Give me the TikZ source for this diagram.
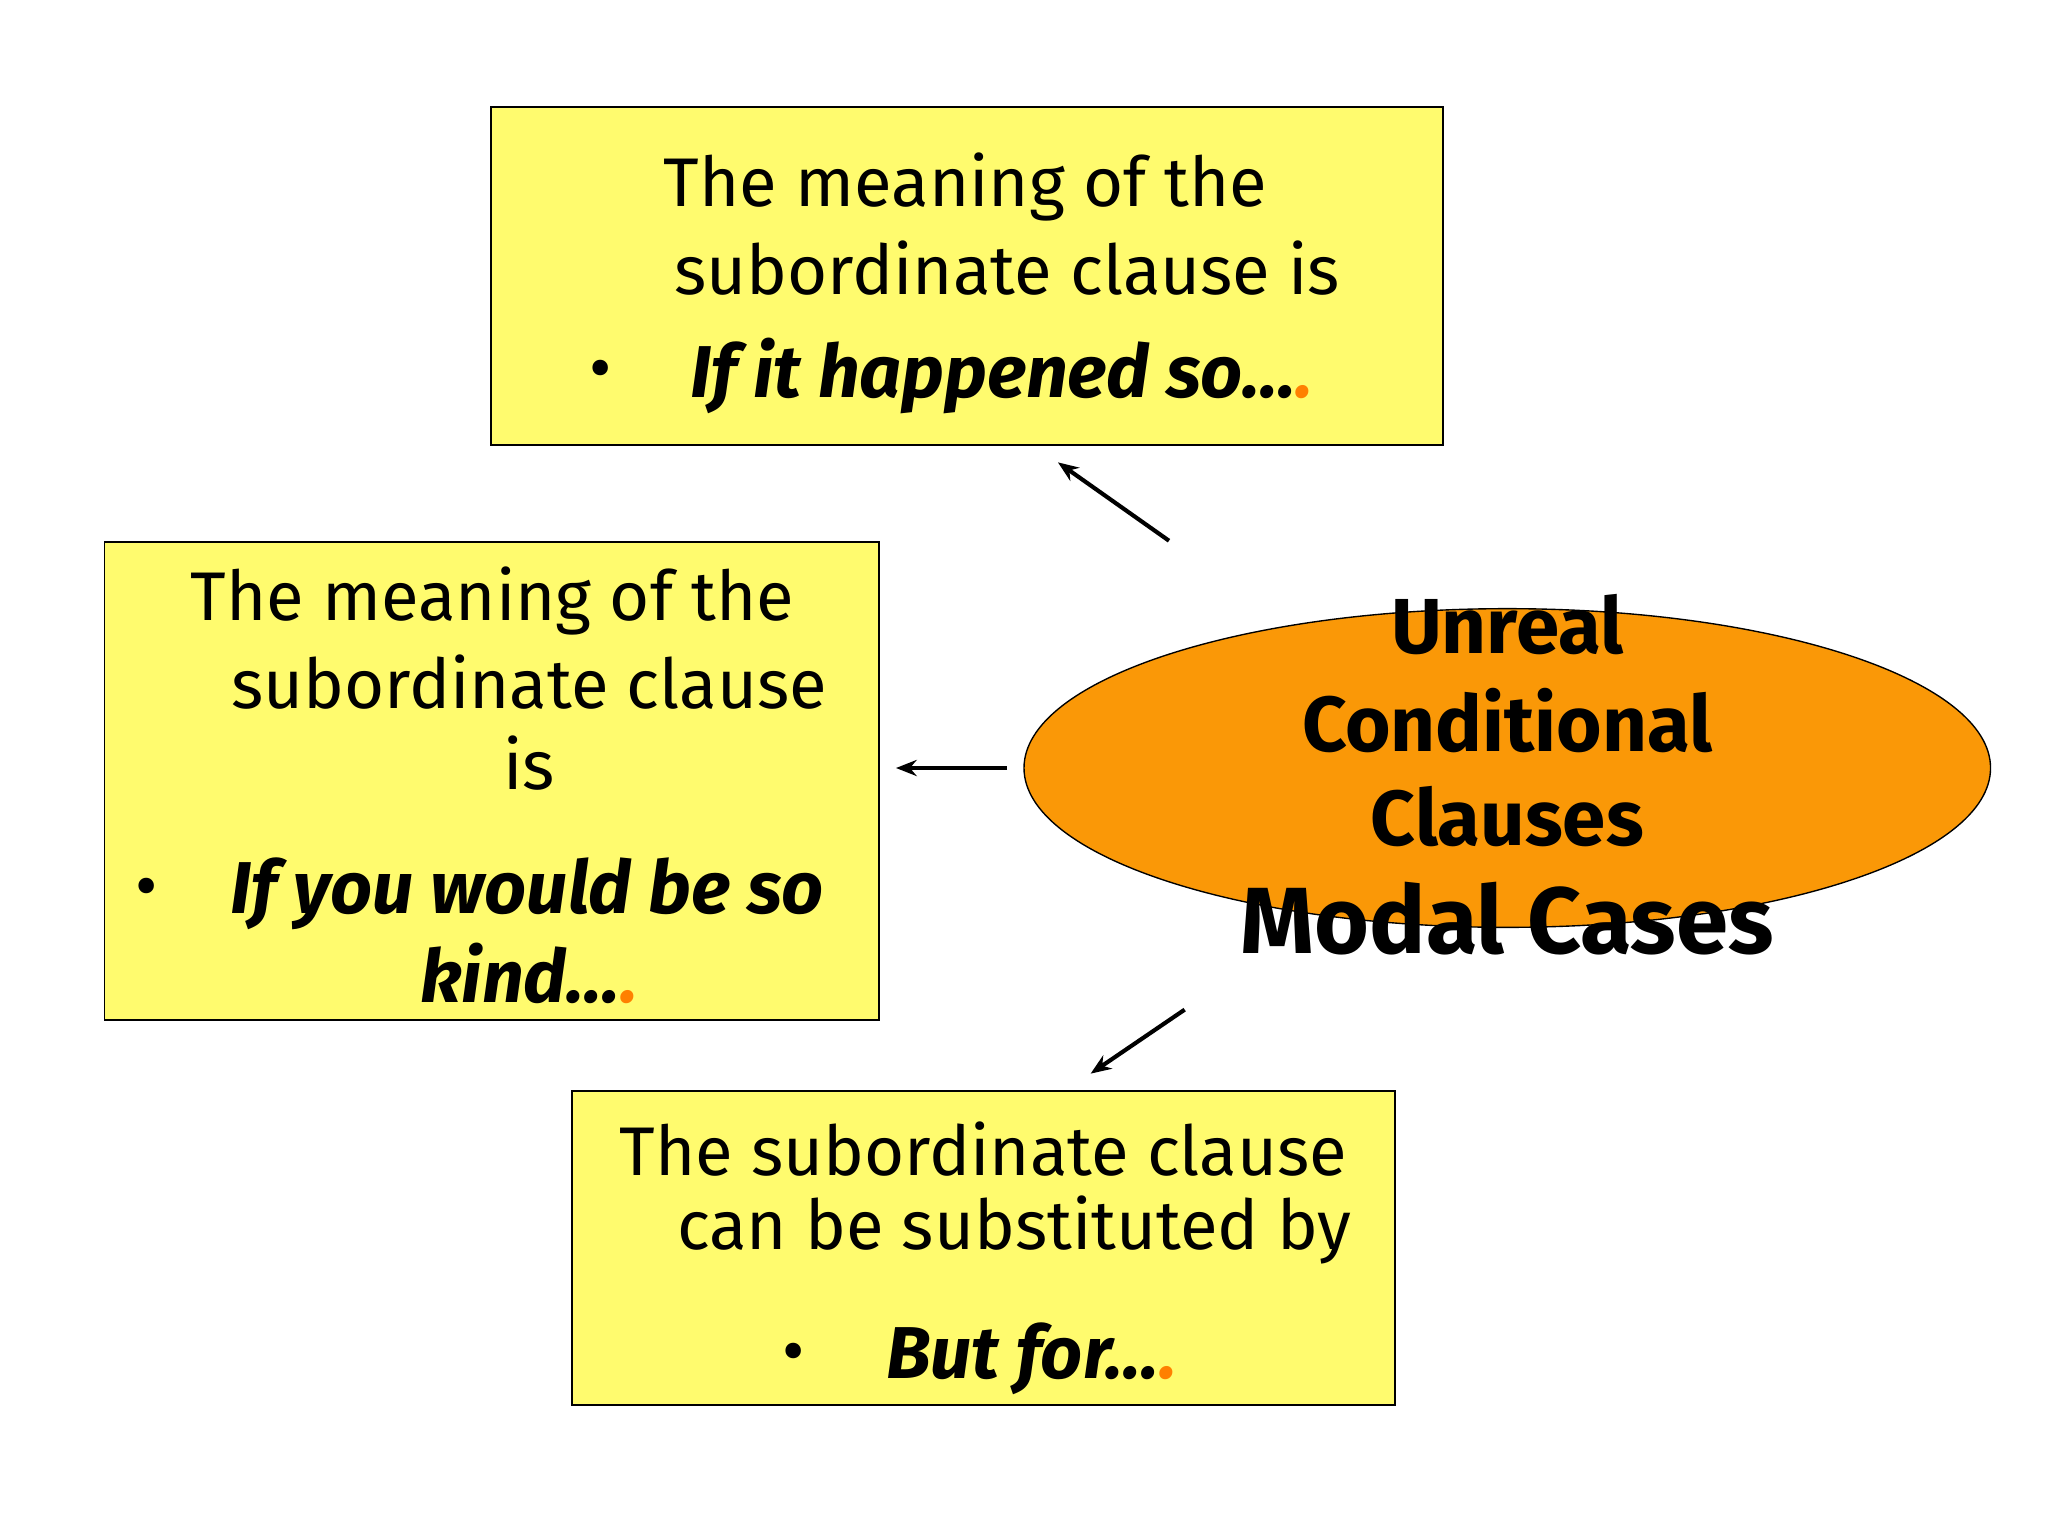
\documentclass[tikz,border=0pt]{standalone}
\usepackage{fontspec}
\usetikzlibrary{shapes.geometric,arrows.meta}
\setmainfont{Fira Sans}
\definecolor{orng}{HTML}{FA9807}
\definecolor{yel}{HTML}{FFFB6E}
\begin{document}
\begin{tikzpicture}[x=0.02cm,y=-0.02cm,
  box/.style={draw=black,fill=yel,line width=0.8pt},
  txt/.style={font=\fontsize{30}{34}\selectfont,inner sep=0},
  ital/.style={font=\fontsize{32}{36}\selectfont\bfseries\itshape,inner sep=0},
  arr/.style={-{Stealth[length=9pt,width=7pt]},line width=1.8pt},
  ttl/.style={font=\fontsize{34}{38}\selectfont\bfseries,inner sep=0}]
\useasboundingbox (0,0) rectangle (1568,1176);
\fill[white] (0,0) rectangle (1568,1176);
\node[box,minimum width=729*0.02cm,minimum height=259*0.02cm] (top) at (740.5,211.5) {};
\node[box,minimum width=593*0.02cm,minimum height=366*0.02cm] (left) at (376.5,598) {};
\node[box,minimum width=630*0.02cm,minimum height=241*0.02cm] (bot) at (753,955.5) {};
\node[draw=black,fill=orng,ellipse,minimum width=740*0.02cm,minimum height=244*0.02cm,line width=0.6pt] (ell) at (1154,588) {};
% top box text
\node[txt,anchor=west] (t1) at (508,143) {The meaning of the};
\node[txt,anchor=west] (t2) at (516,205) {subordinate clause is};
\node[txt] (t3) at (460,288) {\textbullet};
\node[ital,anchor=west] (t4) at (528,288) {If it happened so\dots\textcolor{orange}{.}};
% left box text
\node[txt] (l1) at (377,460) {The meaning of the};
\node[txt] (l2) at (405,522) {subordinate clause};
\node[txt] (l3) at (405,584) {is};
\node[txt] (l4) at (112,684) {\textbullet};
\node[ital,anchor=west] (l5) at (176,684) {If you would be so};
\node[ital] (l6) at (405,745) {kind\dots\textcolor{orange}{.}};
% bottom box text
\node[txt,anchor=west] (b1) at (474,880) {The subordinate clause};
\node[txt,anchor=west] (b2) at (518,942) {can be substituted by};
\node[txt] (b3) at (608,1040) {\textbullet};
\node[ital,anchor=west] (b4) at (678,1040) {But for\dots\textcolor{orange}{.}};
% ellipse text
\node[ttl] (e1) at (1154,478) {Unreal};
\node[ttl] (e2) at (1154,552) {Conditional};
\node[ttl] (e3) at (1154,625) {Clauses};
\node[ttl,font=\fontsize{41}{45}\selectfont\bfseries] (e4) at (1154,703) {Modal Cases};
% arrows
\coordinate (a1s) at (895,414); \coordinate (a1e) at (810,354);
\coordinate (a2s) at (771,588); \coordinate (a2e) at (686,588);
\coordinate (a3s) at (907,773); \coordinate (a3e) at (835,822);
\draw[arr] (a1s) -- (a1e);
\draw[arr] (a2s) -- (a2e);
\draw[arr] (a3s) -- (a3e);
\end{tikzpicture}
\end{document}
